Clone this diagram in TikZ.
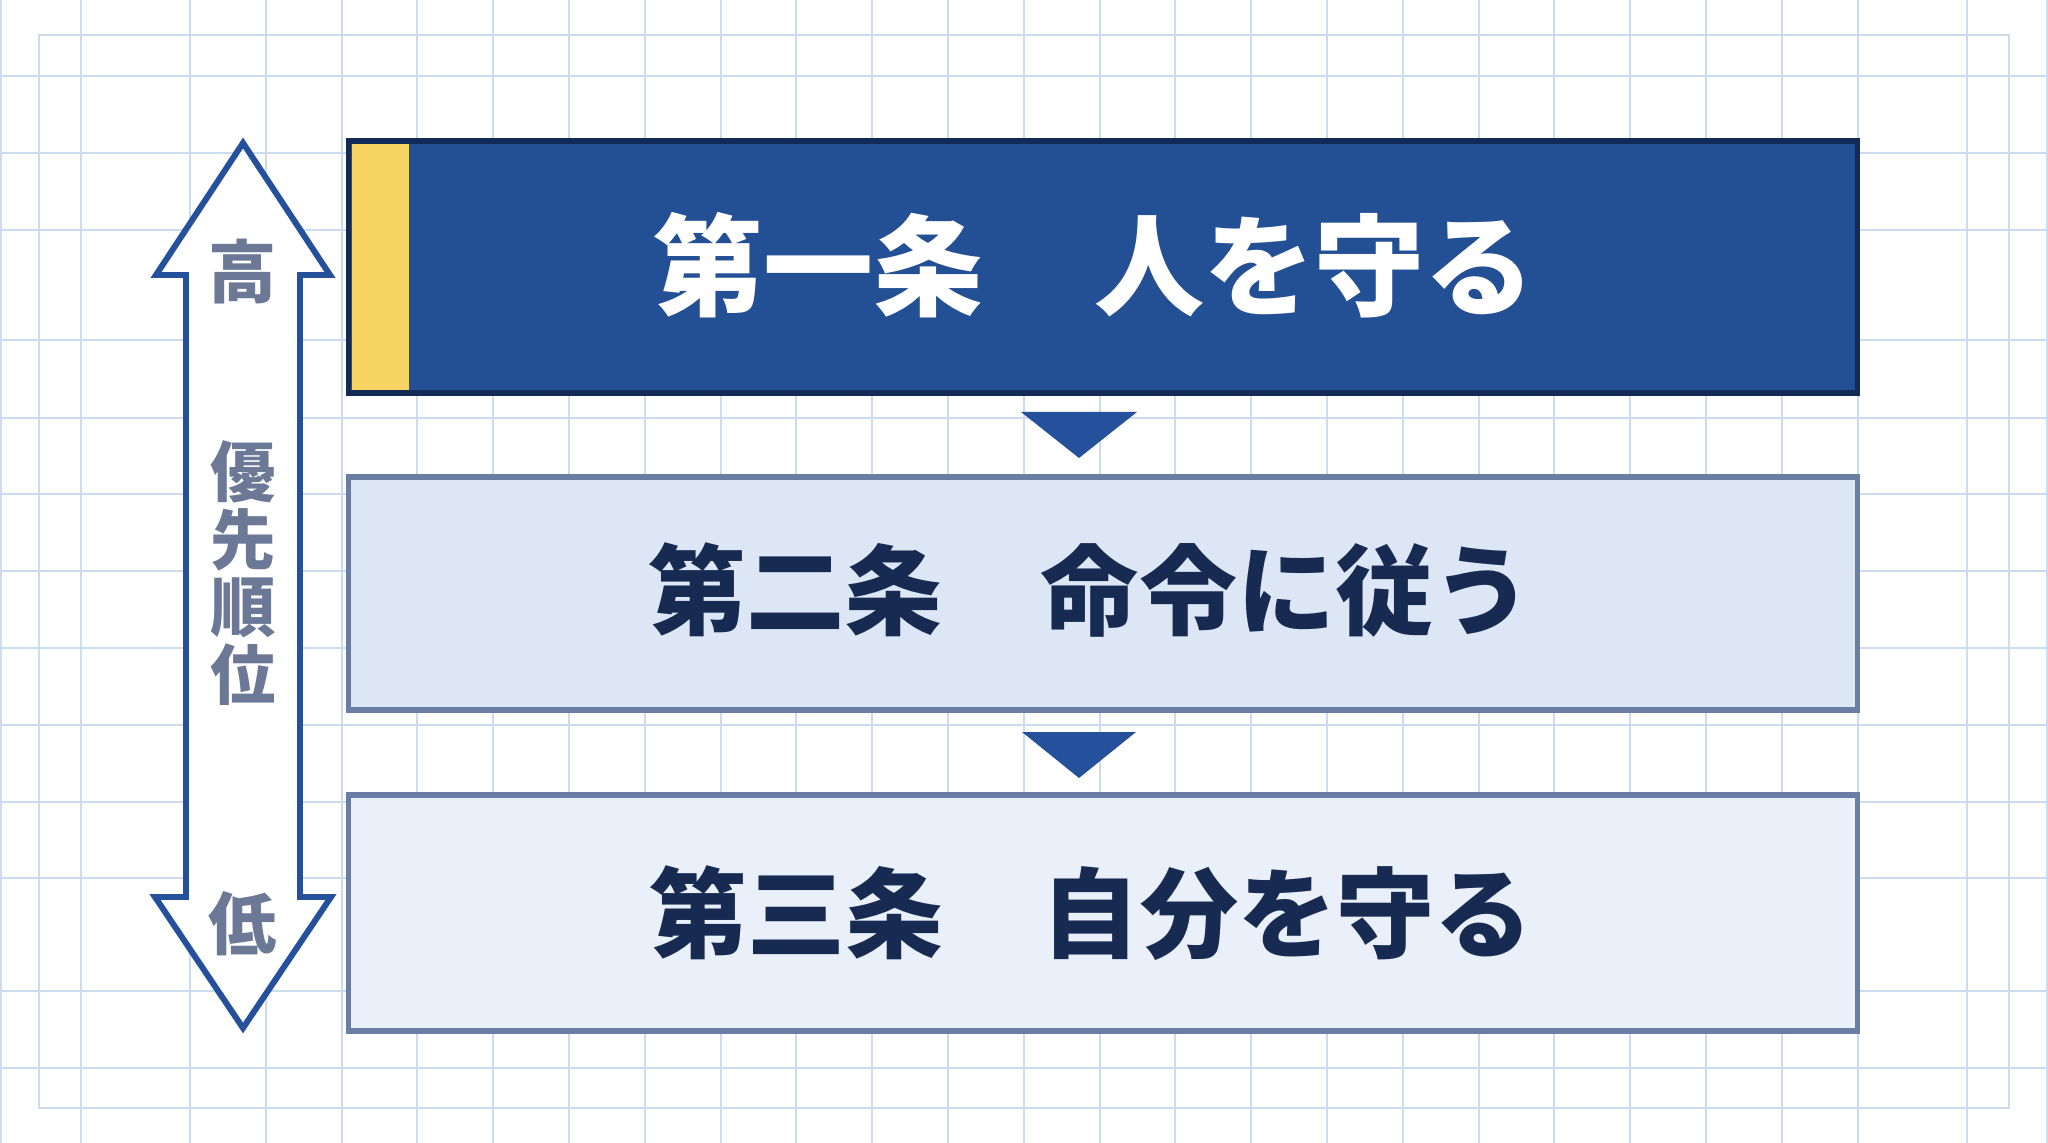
\documentclass[tikz,border=0pt]{standalone}
\usepackage{fontspec}
\newfontfamily\cjk{Noto Sans CJK JP}
\usepackage{tikz}
\usepackage{color}
\definecolor{gridblue}{HTML}{CCDCEF}
\definecolor{navy}{HTML}{234F94}
\definecolor{navyline}{HTML}{142A56}
\definecolor{paleone}{HTML}{DCE6F4}
\definecolor{paletwo}{HTML}{E9F0FA}
\definecolor{slateline}{HTML}{6A7EA4}
\definecolor{inkblue}{HTML}{172B52}
\definecolor{markyellow}{HTML}{F8D563}
\definecolor{labelgrey}{HTML}{6B7896}
\definecolor{arrowblue}{HTML}{24509C}

\begin{document}
\begin{tikzpicture}[x=0.01cm,y=-0.01cm]
            \tikzstyle{grid line}=[draw=gridblue,line width=0.6pt]
            \tikzstyle{rule box}=[draw,rectangle,line width=1.5pt,minimum width=15.08cm,align=center]
            \tikzstyle{rule text}=[inner sep=0pt,font=\cjk\bfseries\fontsize{27.9}{28}\selectfont,text=inkblue]
            \tikzstyle{side text}=[inner sep=0pt,align=center,text=labelgrey,font=\cjk\bfseries\fontsize{18.6}{19.3}\selectfont]

            \useasboundingbox (0,0) rectangle (2048,1143);
            \fill[white] (0,0) rectangle (2048,1143);
            \foreach \x in {1,81,1967,2047} \draw[grid line] (\x,0) -- (\x,1143);
            \foreach \x in {190,265.8,...,1860} \draw[grid line] (\x,0) -- (\x,1143);
            \foreach \y in {76,153,230,340,418,494,571,648,725,802,878,991,1068} \draw[grid line] (0,\y) -- (2048,\y);
            \draw[grid line,line width=0.8pt] (39,35) rectangle (2009,1108);

            \node[rule box,draw=navyline,fill=navy,minimum height=2.52cm] (A) at (1103,267) {};
            \node[rule box,draw=slateline,fill=paleone,minimum height=2.33cm] (B) at (1103,593.5) {};
            \node[rule box,draw=slateline,fill=paletwo,minimum height=2.36cm] (C) at (1103,913) {};
            \fill[markyellow] ([shift={(6,6)}]A.north west) rectangle ([shift={(63,-6)}]A.south west);

            \node[rule text,text=white,font=\cjk\bfseries\fontsize{31.3}{32}\selectfont] (a) at ([xshift=-0.09cm,yshift=0.02cm]A.center) {第一条　人を守る};
            \node[rule text] (b) at ([xshift=-0.13cm,yshift=0.04cm]B.center) {第二条　命令に従う};
            \node[rule text] (c) at ([xshift=-0.12cm]C.center) {第三条　自分を守る};

            \coordinate (AB) at (1079,435);
            \coordinate (BC) at (1079,755);
            \fill[arrowblue] (AB) ++(-58,-23) -- ++(116,0) -- ++(-58,46) -- cycle;
            \fill[arrowblue] (BC) ++(-57,-23) -- ++(114,0) -- ++(-57,46) -- cycle;

            \draw[arrowblue,fill=white,line width=1.7pt] (243,143) -- (330,275) -- (300,275) -- (300,897)
                -- (331,897) -- (243,1028) -- (155,897) -- (186,897) -- (186,275) -- (156,275) -- cycle;
            \node[side text,font=\cjk\bfseries\fontsize{19.4}{20}\selectfont] (hi) at (243,272) {高};
            \node[side text] (mid) at (243,573) {優\\先\\順\\位};
            \node[side text,font=\cjk\bfseries\fontsize{19.4}{20}\selectfont] (lo) at (243,924) {低};
        \end{tikzpicture}
\end{document}
